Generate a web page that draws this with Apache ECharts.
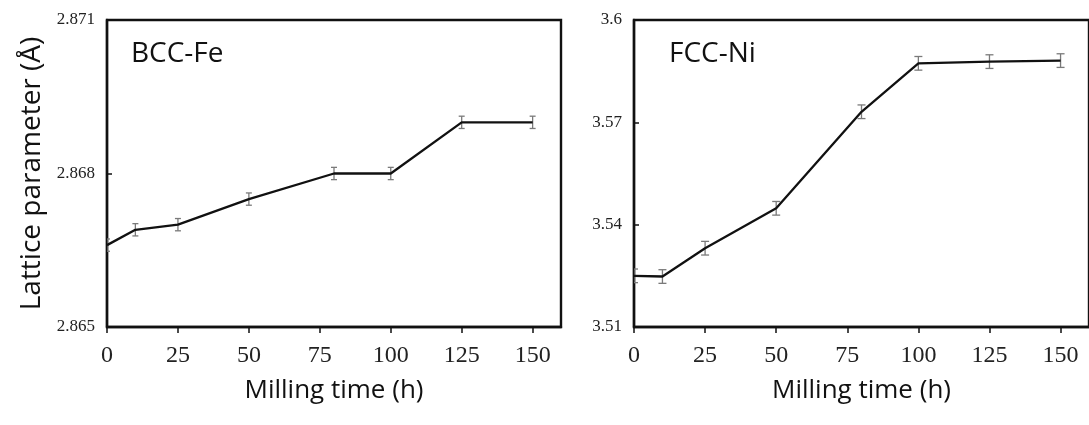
<!DOCTYPE html>
<html>
<head>
<meta charset="utf-8">
<script src="https://cdn.jsdelivr.net/npm/echarts@6/dist/echarts.min.js"></script>
<style>
  html, body { margin: 0; padding: 0; background: #fff; }
  #chart { width: 1089px; height: 425px; }
</style>
</head>
<body>
<div id="chart"></div>
<script>
// Milling times (h)
const millingTime = [0, 10, 25, 50, 80, 100, 125, 150];
const xTicks = [0, 25, 50, 75, 100, 125, 150];

// BCC-Fe lattice parameter (Å) and its error
const feLattice = [2.8666, 2.8669, 2.8670, 2.8675, 2.8680, 2.8680, 2.8690, 2.8690];
const feErr = [0.00012, 0.00012, 0.00012, 0.00012, 0.00012, 0.00012, 0.00012, 0.00012];
const feTicks = [2.865, 2.868, 2.871];

// FCC-Ni lattice parameter (Å) and its error
const niLattice = [3.5250, 3.5248, 3.5331, 3.5448, 3.5731, 3.5873, 3.5878, 3.5881];
const niErr = [0.002, 0.002, 0.002, 0.002, 0.002, 0.002, 0.002, 0.002];
const niTicks = [3.51, 3.54, 3.57, 3.60];

const panelNames = ['BCC-Fe', 'FCC-Ni'];
const xTitle = 'Milling time (h)';
const yTitle = 'Lattice parameter (Å)';

const chart = echarts.init(document.getElementById('chart'), null, { renderer: 'canvas' });

function linePoints(vals) {
  return millingTime.map((t, i) => [t, vals[i]]);
}
function errPoints(vals, errs) {
  return millingTime.map((t, i) => [t, vals[i] - errs[i], vals[i] + errs[i]]);
}

function errorBarItem(capHalf) {
  return function (params, api) {
    const x = api.value(0);
    const top = api.coord([x, api.value(2)]);
    const bot = api.coord([x, api.value(1)]);
    const style = { stroke: '#7a7a7a', lineWidth: 1.3, fill: null };
    return {
      type: 'group',
      children: [
        { type: 'line', shape: { x1: top[0], y1: top[1], x2: bot[0], y2: bot[1] }, style },
        { type: 'line', shape: { x1: top[0] - capHalf, y1: top[1], x2: top[0] + capHalf, y2: top[1] }, style },
        { type: 'line', shape: { x1: bot[0] - capHalf, y1: bot[1], x2: bot[0] + capHalf, y2: bot[1] }, style }
      ]
    };
  };
}

const axisLineStyle = { color: '#111', width: 2.4 };
const tickFont = { fontFamily: 'Liberation Serif', color: '#222' };

function xAxisFor(gridIndex) {
  return {
    type: 'value', gridIndex, min: 0, max: 160,
    name: xTitle, nameLocation: 'middle', nameGap: 51,
    nameTextStyle: { fontFamily: 'Open Sans', fontSize: 26, color: '#111' },
    axisLine: { show: true, lineStyle: axisLineStyle },
    axisTick: { show: true, inside: false, length: 6, customValues: xTicks, lineStyle: { color: '#111', width: 1.5 } },
    axisLabel: { customValues: xTicks, fontSize: 24, margin: 17, ...tickFont },
    splitLine: { show: false }
  };
}

function yAxisFor(gridIndex, min, max, ticks, digits, withName) {
  const ax = {
    type: 'value', gridIndex, min, max,
    axisLine: { show: true, lineStyle: axisLineStyle },
    axisTick: { show: true, inside: true, length: 5, customValues: ticks, lineStyle: { color: '#111', width: 1.5 } },
    axisLabel: {
      customValues: ticks, fontSize: 17, margin: 12, ...tickFont,
      formatter: v => digits === 3 ? Number(v).toFixed(3) : String(+Number(v).toFixed(2))
    },
    splitLine: { show: false }
  };
  if (withName) {
    Object.assign(ax, {
      name: yTitle, nameLocation: 'middle', nameGap: 61, nameRotate: 90,
      nameTextStyle: { fontFamily: 'Open Sans', fontSize: 28, color: '#111' }
    });
  }
  return ax;
}

chart.setOption({
  backgroundColor: '#fff',
  animation: false,
  grid: [
    { left: 107, top: 20, width: 454, height: 307, show: true, borderColor: '#111', borderWidth: 2.4, backgroundColor: 'transparent' },
    { left: 634, top: 20, width: 463, height: 307, show: true, borderColor: '#111', borderWidth: 2.4, backgroundColor: 'transparent' }
  ],
  xAxis: [xAxisFor(0), xAxisFor(1)],
  yAxis: [
    yAxisFor(0, 2.865, 2.871, feTicks, 3, true),
    yAxisFor(1, 3.51, 3.60, niTicks, 2, false)
  ],
  graphic: [
    { type: 'text', left: 131, top: 40, style: { text: panelNames[0], font: '28px "Open Sans"', fill: '#111' } },
    { type: 'text', left: 669, top: 40, style: { text: panelNames[1], font: '28px "Open Sans"', fill: '#111' } }
  ],
  series: [
    {
      type: 'custom', xAxisIndex: 0, yAxisIndex: 0, clip: true, z: 2,
      renderItem: errorBarItem(3), data: errPoints(feLattice, feErr)
    },
    {
      type: 'line', xAxisIndex: 0, yAxisIndex: 0, z: 3, symbol: 'none',
      lineStyle: { color: '#111', width: 2.3 }, data: linePoints(feLattice)
    },
    {
      type: 'custom', xAxisIndex: 1, yAxisIndex: 1, clip: true, z: 2,
      renderItem: errorBarItem(4), data: errPoints(niLattice, niErr)
    },
    {
      type: 'line', xAxisIndex: 1, yAxisIndex: 1, z: 3, symbol: 'none',
      lineStyle: { color: '#111', width: 2.3 }, data: linePoints(niLattice)
    }
  ]
});
</script>
</body>
</html>
